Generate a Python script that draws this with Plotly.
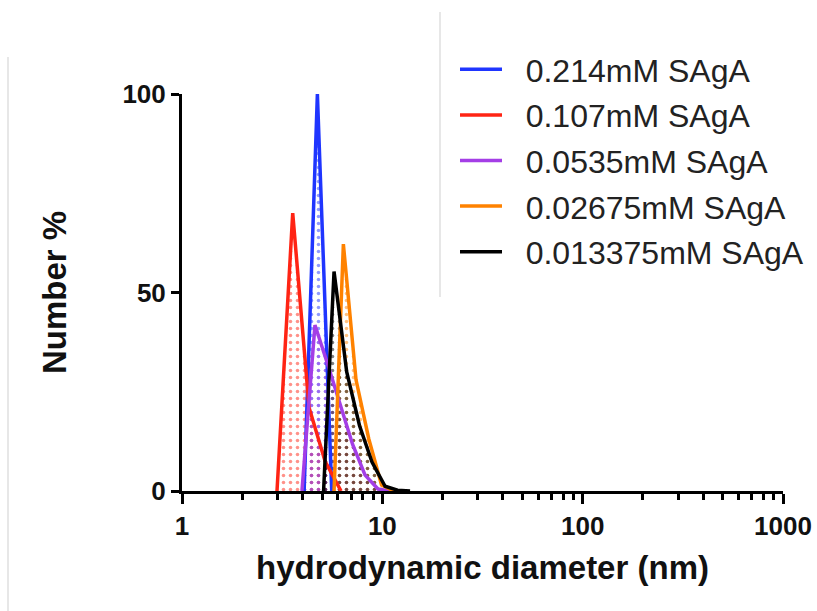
import plotly.graph_objects as go

# ---- data ----
labels = ["0.214mM SAgA", "0.107mM SAgA", "0.0535mM SAgA", "0.02675mM SAgA", "0.013375mM SAgA"]
colors = ["#1f35ff", "#ff2414", "#a43ee6", "#ff8200", "#000000"]

x_214 = [4.07, 4.74, 5.59]
y_214 = [0, 100, 0]

x_107 = [2.98, 3.57, 4.31, 5.18, 6.22]
y_107 = [0, 70, 21, 7.5, 0]

x_0535 = [3.97, 4.61, 5.33, 6.15, 7.10, 8.20, 9.52, 10.9]
y_0535 = [0, 41.8, 32, 22, 11.8, 4, 0.5, 0]

x_02675 = [5.74, 6.39, 7.39, 8.56, 9.91, 11.44]
y_02675 = [0, 62.2, 28, 13.1, 1.5, 0]

x_013375 = [5.09, 5.74, 6.64, 7.69, 8.88, 10.32, 11.91, 13.75]
y_013375 = [0, 55.3, 30, 16.5, 7.3, 1.2, 0.2, 0]

xs = [x_214, x_107, x_0535, x_02675, x_013375]
ys = [y_214, y_107, y_0535, y_02675, y_013375]

x_tickvals = [1, 10, 100, 1000]
x_ticktext = ["1", "10", "100", "1000"]
x_minor = [m * d for d in (1, 10, 100) for m in range(2, 10)]
y_tickvals = [0, 50, 100]

# ---- figure ----
W, H = 817, 611
ML, MR, MT, MB = 182, 34, 94, 120
PW, PH = W - ML - MR, H - MT - MB

fig = go.Figure()
# dotted fills first (no legend entry)
for x, y, name, c in zip(xs, ys, labels, colors):
    fig.add_trace(go.Scatter(
        x=x, y=y, mode="none", showlegend=False, hoverinfo="skip",
        fill="tozeroy", fillcolor="rgba(0,0,0,0)",
        fillpattern=dict(shape=".", fgcolor=c, bgcolor="rgba(255,255,255,0)",
                         size=7, solidity=0.2),
    ))
# lines on top, with legend entries
GAP = "\u2002\u200a"
for i, (x, y, name, c) in enumerate(zip(xs, ys, labels, colors)):
    fig.add_trace(go.Scatter(
        x=x, y=y, name=GAP + name, mode="lines", legendgroup=f"g{i}",
        line=dict(color=c, width=3.5),
    ))

bold = dict(family="Liberation Sans, Arial, sans-serif", color="#111111", weight="bold")

fig.update_layout(
    width=W, height=H,
    margin=dict(l=ML, r=MR, t=MT, b=MB, pad=0, autoexpand=False),
    paper_bgcolor="white", plot_bgcolor="white",
    showlegend=True,
    legend=dict(
        x=(455 - ML) / PW, y=(H - MB - 42) / PH, xanchor="left", yanchor="top",
        font=dict(family="Liberation Sans, Arial, sans-serif", size=32, color="#222222"),
        bgcolor="rgba(0,0,0,0)", itemwidth=42, tracegroupgap=1, traceorder="grouped",
    ),
    xaxis=dict(
        type="log", range=[0, 3], automargin=False,
        tickvals=x_tickvals, ticktext=x_ticktext,
        ticks="outside", ticklen=10, tickwidth=3, tickcolor="black",
        showline=True, linewidth=3, linecolor="black",
        showgrid=False, zeroline=False,
        tickfont=dict(size=26, **bold),
        minor=dict(tickvals=x_minor, ticks="outside", ticklen=6, tickwidth=2.5,
                   tickcolor="black", showgrid=False),
        title=dict(text="hydrodynamic diameter (nm)", font=dict(size=33, **bold), standoff=16),
    ),
    yaxis=dict(
        range=[0, 100], tickvals=y_tickvals, automargin=False,
        ticks="outside", ticklen=8, tickwidth=3, tickcolor="black",
        showline=True, linewidth=3, linecolor="black",
        showgrid=False, zeroline=False,
        tickfont=dict(size=26, **bold),
        title=dict(text="Number %", font=dict(size=33, **bold), standoff=46),
    ),
    shapes=[
        dict(type="line", xref="paper", yref="paper",
             x0=(8 - ML) / PW, x1=(8 - ML) / PW,
             y0=(H - MB - 57) / PH, y1=(H - MB - 611) / PH,
             line=dict(color="#cfcfcf", width=1)),
        dict(type="line", xref="paper", yref="paper",
             x0=(440 - ML) / PW, x1=(440 - ML) / PW,
             y0=(H - MB - 12) / PH, y1=(H - MB - 297) / PH,
             line=dict(color="#cfcfcf", width=1)),
    ],
)

fig.write_html("out.html")
